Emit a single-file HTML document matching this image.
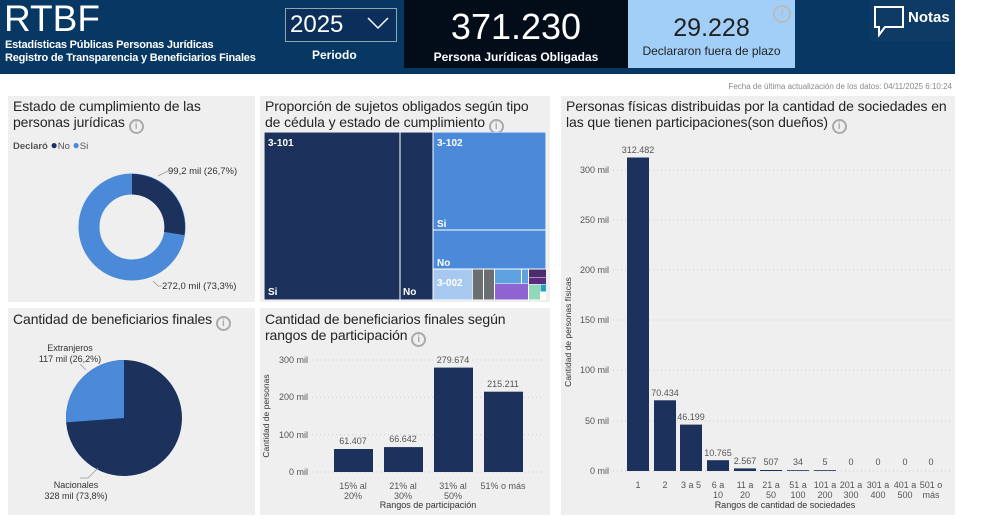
<!DOCTYPE html>
<html><head><meta charset="utf-8"><style>
*{margin:0;padding:0;box-sizing:border-box}
body{width:996px;height:522px;background:#fff;font-family:"Liberation Sans",sans-serif;position:relative;overflow:hidden;color:#252423}
.a{position:absolute}
.panel{position:absolute;background:#efefef}
.t{position:absolute;font-size:14px;line-height:16px;color:#252423;letter-spacing:-0.1px}
.info{display:inline-block;width:15px;height:15px;border:2px solid #aaa;border-radius:50%;color:#aaa;font-size:10px;line-height:11px;text-align:center;font-weight:bold;vertical-align:-2px}
svg text{font-family:"Liberation Sans",sans-serif}
</style></head><body>
<div class="a" style="left:0;top:0;width:955px;height:74px;background:#073763"></div>
<div class="a" style="left:4px;top:-2px;font-size:37px;color:#fff">RTBF</div>
<div class="a" style="left:5px;top:39px;font-size:11px;color:#fff;font-weight:bold;line-height:13px;letter-spacing:-0.2px">Estadísticas Públicas Personas Jurídicas<br>Registro de Transparencia y Beneficiarios Finales</div>
<div class="a" style="left:285px;top:8px;width:112px;height:34px;border:1px solid #8aa;background:#0b2f5a"></div>
<div class="a" style="left:290px;top:11px;font-size:24px;color:#fff">2025</div>
<svg class="a" style="left:366px;top:16px" width="24" height="14"><polyline points="2,2 12,12 22,2" fill="none" stroke="#fff" stroke-width="1.5"/></svg>
<div class="a" style="left:312px;top:48px;font-size:12px;color:#fff;font-weight:bold">Periodo</div>
<div class="a" style="left:404px;top:0;width:224px;height:68px;background:#030d1a"></div>
<div class="a" style="left:404px;top:6px;width:224px;text-align:center;font-size:36px;color:#fff">371.230</div>
<div class="a" style="left:404px;top:50px;width:224px;text-align:center;font-size:12px;color:#fff;font-weight:bold">Persona Jurídicas Obligadas</div>
<div class="a" style="left:628px;top:0;width:167px;height:68px;background:#a1cff7"></div>
<div class="a" style="left:628px;top:14px;width:167px;text-align:center;font-size:25px;color:#222">29.228</div>
<div class="a" style="left:628px;top:44px;width:167px;text-align:center;font-size:12px;color:#222">Declararon fuera de plazo</div>
<div class="a" style="left:773px;top:5px;width:18px;height:18px;border:2px solid #bbb;border-radius:50%;color:#bbb;font-size:11px;text-align:center;line-height:14px;font-weight:bold">i</div>
<div class="a" style="left:870px;top:0;width:85px;height:41px;background:#0e3a66"></div>
<svg class="a" style="left:873px;top:5px" width="34" height="32"><path d="M2,2 H30 V22 H12 L6,30 V22 H2 Z" fill="none" stroke="#fff" stroke-width="2"/></svg>
<div class="a" style="left:908px;top:9px;font-size:15px;color:#fff;font-weight:bold">Notas</div>
<div class="a" style="left:700px;top:82px;font-size:8px;color:#888;width:252px;text-align:right">Fecha de última actualización de los datos: 04/11/2025 6:10:24</div>

<div class="panel" style="left:8px;top:96px;width:247px;height:206px"></div>
<div class="t" style="left:13px;top:98px">Estado de cumplimiento de las<br>personas jurídicas <span class="info">i</span></div>
<div class="a" style="left:13px;top:138px;font-size:9.5px;color:#555"><b>Declaró</b> <span style="color:#1c325c;font-size:12px">●</span>No <span style="color:#4a8ad8;font-size:12px">●</span>Si</div>
<svg class="a" style="left:8px;top:96px" width="247" height="206">
<circle cx="124" cy="131" r="43" fill="none" stroke="#4a8ad8" stroke-width="21"/>
<path d="M124,78 A53,53 0 0 1 176.4,139.1 L156.0,135.9 A32.5,32.5 0 0 0 124,98.5Z" fill="#1c325c"/>
<polyline points="150,80 160,75 165,75" fill="none" stroke="#999" stroke-width="0.8"/>
<text x="160" y="78" font-size="9.5" fill="#333">99,2 mil (26,7%)</text>
<polyline points="145,185 150,190 154,190" fill="none" stroke="#999" stroke-width="0.8"/>
<text x="154" y="193" font-size="9.5" fill="#333">272,0 mil (73,3%)</text>
</svg>

<div class="panel" style="left:260px;top:96px;width:290px;height:206px"></div>
<div class="t" style="left:265px;top:98px">Proporción de sujetos obligados según tipo<br>de cédula y estado de cumplimiento <span class="info">i</span></div>
<svg class="a" style="left:264px;top:132px" width="282" height="168">
<rect x="0" y="0" width="282" height="168" fill="#fff"/>
<rect x="0.5" y="0.5" width="135" height="167" fill="#1c325c"/>
<rect x="136.5" y="0.5" width="32" height="167" fill="#1c325c"/>
<rect x="169.5" y="0.5" width="112" height="97" fill="#4a8ad8"/>
<rect x="169.5" y="98.5" width="112" height="38" fill="#4a8ad8"/>
<rect x="169.5" y="137.5" width="39" height="30" fill="#a7c9ef"/>
<rect x="209" y="137.5" width="10" height="30" fill="#6b6f72"/>
<rect x="220" y="137.5" width="10" height="30" fill="#6b6f72"/>
<rect x="231" y="137.5" width="26" height="14" fill="#5ea2e0"/>
<rect x="258" y="137.5" width="6" height="14" fill="#5ea2e0"/>
<rect x="231" y="152" width="33" height="15.5" fill="#8e64d0"/>
<rect x="265" y="137.5" width="17" height="8" fill="#4c2a6e"/>
<rect x="265" y="146" width="17" height="6" fill="#5c2a80"/>
<rect x="265" y="152.5" width="11" height="15" fill="#8fd8b8"/>
<rect x="276.5" y="152.5" width="5.5" height="7" fill="#2aa0c0"/>
<g font-size="10" fill="#fff" font-weight="bold">
<text x="4" y="14">3-101</text><text x="4" y="163">Si</text><text x="139" y="163">No</text>
<text x="173" y="14">3-102</text><text x="173" y="95">Si</text><text x="173" y="134">No</text><text x="173" y="154">3-002</text>
</g></svg>

<div class="panel" style="left:561px;top:96px;width:394px;height:419px"></div>
<div class="t" style="left:566px;top:98px">Personas físicas distribuidas por la cantidad de sociedades en<br>las que tienen participaciones(son dueños) <span class="info">i</span></div>
<svg class="a" style="left:561px;top:96px" width="394" height="419">
<g stroke="#ccc" stroke-dasharray="1,3" stroke-width="1">
<line x1="52" x2="390" y1="375" y2="375"/><line x1="52" x2="390" y1="325" y2="325"/><line x1="52" x2="390" y1="274" y2="274"/><line x1="52" x2="390" y1="224" y2="224"/><line x1="52" x2="390" y1="174" y2="174"/><line x1="52" x2="390" y1="124" y2="124"/><line x1="52" x2="390" y1="74" y2="74"/>
</g>
<g font-size="9" fill="#555" text-anchor="end">
<text x="48" y="378">0 mil</text><text x="48" y="328">50 mil</text><text x="48" y="277">100 mil</text><text x="48" y="227">150 mil</text><text x="48" y="177">200 mil</text><text x="48" y="127">250 mil</text><text x="48" y="77">300 mil</text>
</g>
<text transform="translate(10,236) rotate(-90)" font-size="8.5" fill="#333" text-anchor="middle">Cantidad de personas físicas</text>
<g fill="#1c325c">
<rect x="66" y="61.5" width="22" height="313.5"/><rect x="93" y="304.3" width="22" height="70.7"/><rect x="119" y="328.6" width="22" height="46.4"/><rect x="146" y="364.2" width="22" height="10.8"/><rect x="173" y="372.4" width="22" height="2.6"/><rect x="199" y="374" width="22" height="1"/><rect x="226" y="374.2" width="22" height="0.8"/><rect x="253" y="374.2" width="22" height="0.8"/>
</g>
<g font-size="9" fill="#555" text-anchor="middle">
<text x="77" y="57">312.482</text><text x="104" y="300">70.434</text><text x="130" y="324">46.199</text><text x="157" y="360">10.765</text><text x="184" y="368">2.567</text><text x="210" y="369">507</text><text x="237" y="369">34</text><text x="264" y="369">5</text><text x="290" y="369">0</text><text x="317" y="369">0</text><text x="344" y="369">0</text><text x="370" y="369">0</text>
</g>
<g font-size="9" fill="#555" text-anchor="middle">
<text x="77" y="392">1</text><text x="104" y="392">2</text><text x="130" y="392">3 a 5</text>
<text x="157" y="392">6 a</text><text x="157" y="402">10</text>
<text x="184" y="392">11 a</text><text x="184" y="402">20</text>
<text x="210" y="392">21 a</text><text x="210" y="402">50</text>
<text x="237" y="392">51 a</text><text x="237" y="402">100</text>
<text x="264" y="392">101 a</text><text x="264" y="402">200</text>
<text x="290" y="392">201 a</text><text x="290" y="402">300</text>
<text x="317" y="392">301 a</text><text x="317" y="402">400</text>
<text x="344" y="392">401 a</text><text x="344" y="402">500</text>
<text x="370" y="392">501 o</text><text x="370" y="402">más</text>
</g>
<text x="224" y="412" font-size="9" fill="#333" text-anchor="middle">Rangos de cantidad de sociedades</text>
</svg>

<div class="panel" style="left:8px;top:308px;width:247px;height:207px"></div>
<div class="t" style="left:13px;top:311px">Cantidad de beneficiarios finales <span class="info">i</span></div>
<svg class="a" style="left:8px;top:308px" width="247" height="207">
<circle cx="116" cy="110" r="58" fill="#1c325c"/>
<path d="M116,110 L116,52 A58,58 0 0 0 58.2,114.4 Z" fill="#4a8ad8"/>
<polyline points="78,62 72,56" fill="none" stroke="#999" stroke-width="0.8"/>
<text x="62" y="43" font-size="9" fill="#333" text-anchor="middle">Extranjeros</text>
<text x="62" y="54" font-size="9" fill="#333" text-anchor="middle">117 mil (26,2%)</text>
<polyline points="90,160 80,170 72,170" fill="none" stroke="#999" stroke-width="0.8"/>
<text x="68" y="180" font-size="9" fill="#333" text-anchor="middle">Nacionales</text>
<text x="68" y="191" font-size="9" fill="#333" text-anchor="middle">328 mil (73,8%)</text>
</svg>

<div class="panel" style="left:260px;top:308px;width:290px;height:207px"></div>
<div class="t" style="left:265px;top:311px">Cantidad de beneficiarios finales según<br>rangos de participación <span class="info">i</span></div>
<svg class="a" style="left:260px;top:308px" width="290" height="207">
<g stroke="#ccc" stroke-dasharray="1,3"><line x1="52" x2="284" y1="164" y2="164"/><line x1="52" x2="284" y1="126.7" y2="126.7"/><line x1="52" x2="284" y1="89.3" y2="89.3"/><line x1="52" x2="284" y1="52" y2="52"/></g>
<g font-size="9" fill="#555" text-anchor="end"><text x="48" y="167">0 mil</text><text x="48" y="130">100 mil</text><text x="48" y="92">200 mil</text><text x="48" y="55">300 mil</text></g>
<text transform="translate(9,108) rotate(-90)" font-size="8.5" fill="#333" text-anchor="middle">Cantidad de personas</text>
<g fill="#1c325c"><rect x="74" y="141" width="39" height="23"/><rect x="124" y="139.1" width="39" height="24.9"/><rect x="174" y="59.6" width="39" height="104.4"/><rect x="224" y="83.7" width="39" height="80.3"/></g>
<g font-size="9" fill="#555" text-anchor="middle"><text x="93" y="136">61.407</text><text x="143" y="134">66.642</text><text x="193" y="55">279.674</text><text x="243" y="79">215.211</text>
<text x="93" y="181">15% al</text><text x="93" y="191">20%</text><text x="143" y="181">21% al</text><text x="143" y="191">30%</text><text x="193" y="181">31% al</text><text x="193" y="191">50%</text><text x="243" y="181">51% o más</text></g>
<text x="168" y="200" font-size="9" fill="#333" text-anchor="middle">Rangos de participación</text>
</svg>
</body></html>
